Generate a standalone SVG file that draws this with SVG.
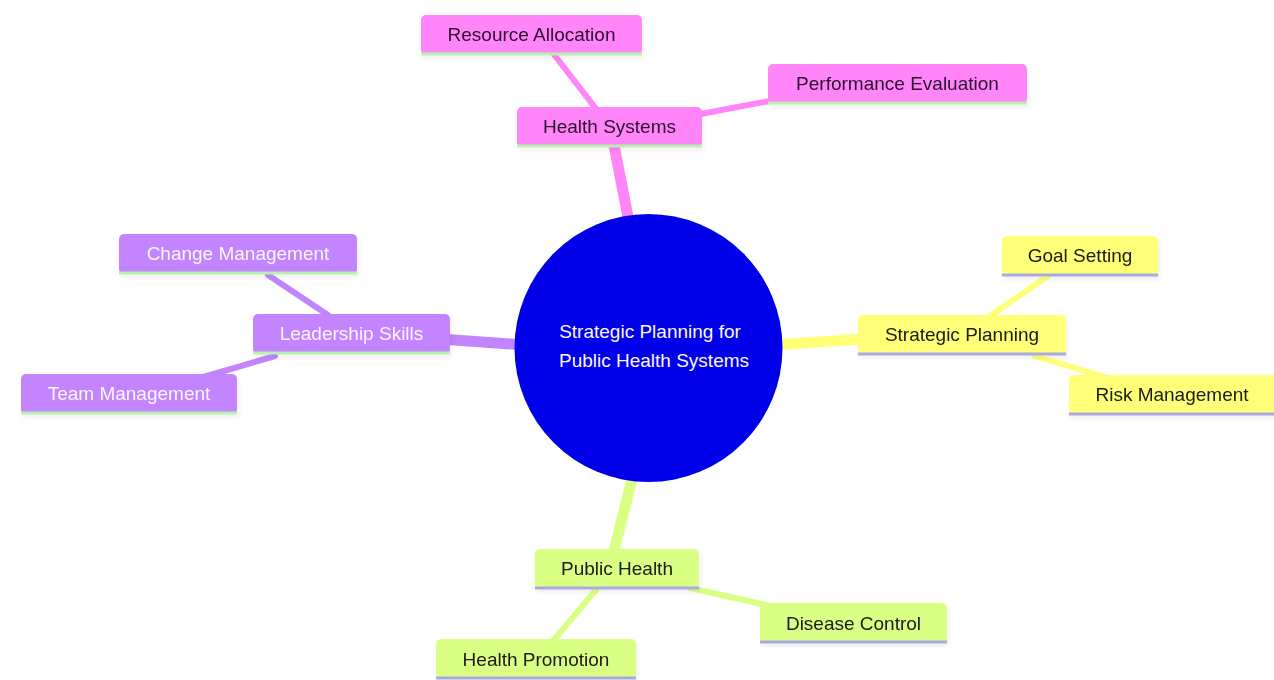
<svg xmlns="http://www.w3.org/2000/svg" width="1274" height="680" viewBox="0 0 1274 680">
<defs>
<filter id="sh" x="-10%" y="-20%" width="120%" height="150%">
<feDropShadow dx="2" dy="3" stdDeviation="2" flood-color="#000" flood-opacity="0.06"/>
</filter>
</defs>
<style>
.t{font-family:"Liberation Sans",Arial,sans-serif;font-size:19px;text-anchor:middle}
.pk{fill:#ff85f8}
.pu{fill:#c285ff}
.ye{fill:#ffff78}
.gr{fill:#d9ff85}
.lg{stroke:#b8f0b0;stroke-width:3}
.lv{stroke:#aaaae0;stroke-width:3}
.dk{fill:#2a1030}
.wh{fill:#fbf6ff}
.bk{fill:#1a1a1a}
.e{fill:none;stroke-linecap:round}
</style>
<rect width="1274" height="680" fill="#fff"/>
<g id="connectors">
<line class="e" x1="629" y1="222" x2="613" y2="140" stroke="#ff85f8" stroke-width="11"/>
<line class="e" x1="597" y1="110" x2="552" y2="52" stroke="#ff85f8" stroke-width="6"/>
<line class="e" x1="690" y1="116" x2="775" y2="100" stroke="#ff85f8" stroke-width="6"/>
<line class="e" x1="525" y1="345" x2="440" y2="339" stroke="#c285ff" stroke-width="11"/>
<line class="e" x1="328" y1="315" x2="268" y2="275" stroke="#c285ff" stroke-width="6"/>
<line class="e" x1="275" y1="356" x2="200" y2="378" stroke="#c285ff" stroke-width="6"/>
<line class="e" x1="772" y1="345" x2="865" y2="339" stroke="#ffff78" stroke-width="11"/>
<line class="e" x1="990" y1="316" x2="1048" y2="276" stroke="#ffff78" stroke-width="6"/>
<line class="e" x1="1035" y1="356" x2="1115" y2="380" stroke="#ffff78" stroke-width="6"/>
<line class="e" x1="633" y1="475" x2="613" y2="555" stroke="#d9ff85" stroke-width="11"/>
<line class="e" x1="596" y1="590" x2="552" y2="642" stroke="#d9ff85" stroke-width="6"/>
<line class="e" x1="690" y1="588" x2="770" y2="606" stroke="#d9ff85" stroke-width="6"/>
</g>
<g id="root">
<circle cx="648.5" cy="348" r="134" fill="#0000e8"/>
<text class="t wh" x="650" y="338">Strategic Planning for</text>
<text class="t wh" x="654" y="367">Public Health Systems</text>
</g>
<g id="health-systems" filter="url(#sh)">
<rect class="pk" x="517" y="107" width="185" height="40" rx="5"/>
<line class="lg" x1="517" y1="146" x2="702" y2="146"/>
<text class="t dk" x="609.5" y="133">Health Systems</text>
</g>
<g id="resource-allocation" filter="url(#sh)">
<rect class="pk" x="421" y="15" width="221" height="40" rx="5"/>
<line class="lg" x1="421" y1="54" x2="642" y2="54"/>
<text class="t dk" x="531.5" y="41">Resource Allocation</text>
</g>
<g id="performance-evaluation" filter="url(#sh)">
<rect class="pk" x="768" y="64" width="259" height="40" rx="5"/>
<line class="lg" x1="768" y1="103" x2="1027" y2="103"/>
<text class="t dk" x="897.5" y="90">Performance Evaluation</text>
</g>
<g id="leadership-skills" filter="url(#sh)">
<rect class="pu" x="253" y="314" width="197" height="40" rx="5"/>
<line class="lg" x1="253" y1="353" x2="450" y2="353"/>
<text class="t wh" x="351.5" y="340">Leadership Skills</text>
</g>
<g id="change-management" filter="url(#sh)">
<rect class="pu" x="119" y="234" width="238" height="40" rx="5"/>
<line class="lg" x1="119" y1="273" x2="357" y2="273"/>
<text class="t wh" x="238" y="260">Change Management</text>
</g>
<g id="team-management" filter="url(#sh)">
<rect class="pu" x="21" y="374" width="216" height="40" rx="5"/>
<line class="lg" x1="21" y1="413" x2="237" y2="413"/>
<text class="t wh" x="129" y="400">Team Management</text>
</g>
<g id="strategic-planning" filter="url(#sh)">
<rect class="ye" x="858" y="315" width="208" height="40" rx="5"/>
<line class="lv" x1="858" y1="354" x2="1066" y2="354"/>
<text class="t bk" x="962" y="341">Strategic Planning</text>
</g>
<g id="goal-setting" filter="url(#sh)">
<rect class="ye" x="1002" y="236" width="156" height="40" rx="5"/>
<line class="lv" x1="1002" y1="275" x2="1158" y2="275"/>
<text class="t bk" x="1080" y="262">Goal Setting</text>
</g>
<g id="risk-management" filter="url(#sh)">
<rect class="ye" x="1069" y="375" width="210" height="40" rx="5"/>
<line class="lv" x1="1069" y1="414" x2="1279" y2="414"/>
<text class="t bk" x="1172" y="401">Risk Management</text>
</g>
<g id="public-health" filter="url(#sh)">
<rect class="gr" x="535" y="549" width="164" height="40" rx="5"/>
<line class="lv" x1="535" y1="588" x2="699" y2="588"/>
<text class="t bk" x="617" y="575">Public Health</text>
</g>
<g id="disease-control" filter="url(#sh)">
<rect class="gr" x="760" y="603" width="187" height="40" rx="5"/>
<line class="lv" x1="760" y1="642" x2="947" y2="642"/>
<text class="t bk" x="853.5" y="630">Disease Control</text>
</g>
<g id="health-promotion" filter="url(#sh)">
<rect class="gr" x="436" y="639" width="200" height="40" rx="5"/>
<line class="lv" x1="436" y1="678" x2="636" y2="678"/>
<text class="t bk" x="536" y="666">Health Promotion</text>
</g>
</svg>
